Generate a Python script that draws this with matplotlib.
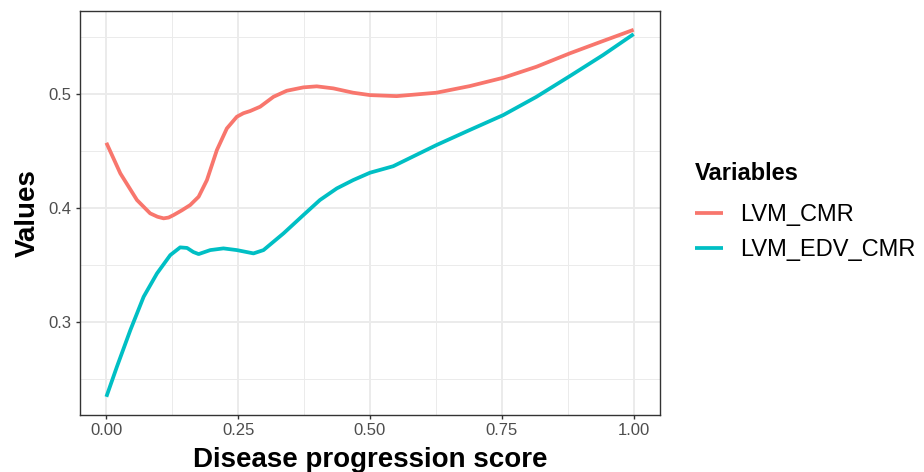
import matplotlib.pyplot as plt
from matplotlib.ticker import MultipleLocator

plt.rcParams['font.family'] = ['Liberation Sans', 'DejaVu Sans']

# values
x_cmr = [0.0, 0.0265, 0.058, 0.083, 0.097, 0.1086, 0.118, 0.1275, 0.143, 0.159, 0.175, 0.1907, 0.2096,
         0.2285, 0.2475, 0.26, 0.2727, 0.2917, 0.3169, 0.342, 0.3737, 0.399, 0.4305, 0.468,
         0.5, 0.5505, 0.626, 0.689, 0.7525, 0.8157, 0.879, 0.94, 1.0]
lvm_cmr = [0.4572, 0.4303, 0.4069, 0.3952, 0.3922, 0.3908, 0.3915, 0.3937, 0.3978, 0.4025, 0.4098, 0.4244, 0.4508,
           0.4698, 0.4801, 0.4832, 0.4851, 0.4889, 0.4976, 0.5029, 0.5059, 0.5068, 0.505, 0.5012,
           0.4991, 0.4982, 0.5012, 0.507, 0.5143, 0.524, 0.5358, 0.5463, 0.5565]

x_edv = [0.0, 0.02, 0.0455, 0.0707, 0.096, 0.1212, 0.14, 0.153, 0.165, 0.175, 0.197,
         0.222, 0.2475, 0.279, 0.298, 0.336, 0.3737, 0.405, 0.437, 0.468, 0.5,
         0.544, 0.626, 0.689, 0.7525, 0.8157, 0.879, 0.942, 1.0]
lvm_edv_cmr = [0.234, 0.2604, 0.2926, 0.3219, 0.3424, 0.3585, 0.3653, 0.3648, 0.3612, 0.3594, 0.3629,
               0.3644, 0.3629, 0.36, 0.3629, 0.3776, 0.3937, 0.4069, 0.4171, 0.4244, 0.4309,
               0.4366, 0.4552, 0.4684, 0.4815, 0.4976, 0.5158, 0.5343, 0.5527]

x_ticks = [0.0, 0.25, 0.5, 0.75, 1.0]
x_labels = ["0.00", "0.25", "0.50", "0.75", "1.00"]
y_ticks = [0.3, 0.4, 0.5]

fig = plt.figure(figsize=(9.24, 4.72), dpi=100)
ax = fig.add_axes([80 / 924, 57 / 472, 580 / 924, 404 / 472])

ax.plot(x_cmr, lvm_cmr, color="#F8766D", lw=2.7, label="LVM_CMR", solid_capstyle="butt")
ax.plot(x_edv, lvm_edv_cmr, color="#00BFC4", lw=2.7, label="LVM_EDV_CMR", solid_capstyle="butt")

ax.set_xlim(-0.05, 1.05)
ax.set_ylim(0.218, 0.573)
ax.set_xticks(x_ticks)
ax.set_xticklabels(x_labels)
ax.set_yticks(y_ticks)
ax.xaxis.set_minor_locator(MultipleLocator(0.125))
ax.yaxis.set_minor_locator(MultipleLocator(0.05))

ax.grid(which="major", color="#EBEBEB", lw=1.4)
ax.grid(which="minor", color="#EBEBEB", lw=0.7)
ax.set_axisbelow(True)
for s in ax.spines.values():
    s.set_color("#333333")
    s.set_linewidth(1.0)

ax.tick_params(which="major", length=3, width=1, color="#333333",
               labelsize=12, labelcolor="#4D4D4D", pad=3)
ax.tick_params(which="minor", length=0)

ax.set_xlabel("Disease progression score", fontsize=20, fontweight="bold", labelpad=6)
ax.set_ylabel("Values", fontsize=20, fontweight="bold", labelpad=6)

leg = fig.legend(loc="upper left", bbox_to_anchor=(695 / 924, 1 - 162 / 472),
                 borderaxespad=0, borderpad=0,
                 title="Variables", frameon=False, fontsize=17,
                 handlelength=1.2, handletextpad=0.72, labelspacing=0.55)
leg.get_title().set_fontweight("bold")
leg.get_title().set_fontsize(17)
leg._legend_box.align = "left"
leg._legend_box.sep = 0.55 * 17 + 4.3  # a bit more room under the title

fig.savefig("out.png", dpi=100)
